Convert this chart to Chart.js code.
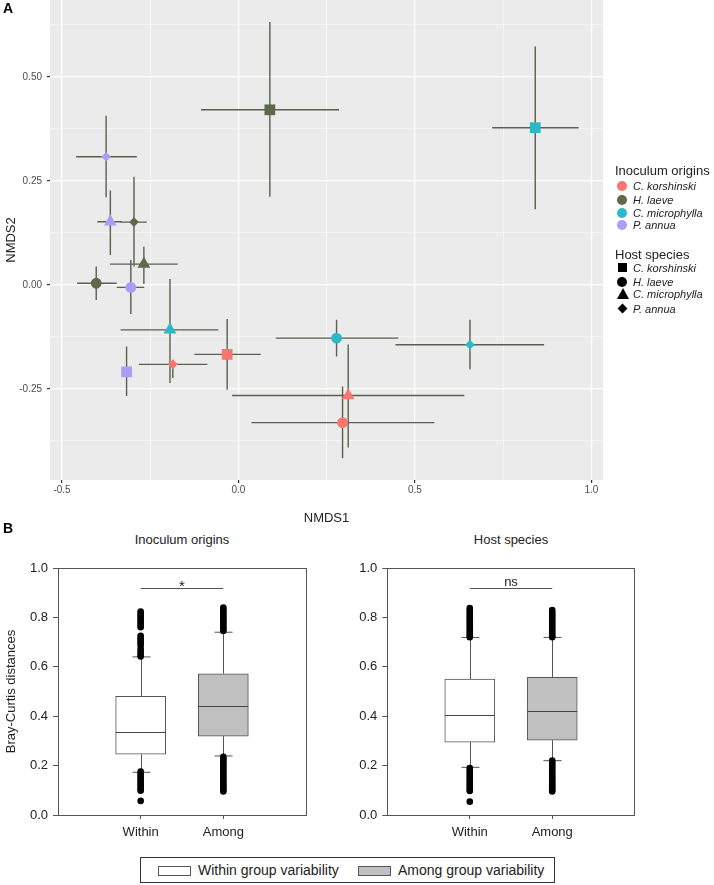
<!DOCTYPE html>
<html>
<head>
<meta charset="utf-8">
<script src="https://cdn.jsdelivr.net/npm/chart.js@4/dist/chart.umd.min.js"></script>
<style>
body { margin: 0; background: #fff; font-family: 'Liberation Sans', Arial, sans-serif; color: #222; }
#page { position: relative; width: 714px; height: 885px; overflow: hidden; }
.abs { position: absolute; }
.panel { font-weight: bold; font-size: 14px; color: #000; }
.ltitle { font-size: 13px; color: #222; white-space: nowrap; }
.litem { font-size: 11px; font-style: italic; color: #222; white-space: nowrap; line-height: 13px; }
.sym { position: absolute; left: -16px; top: 1px; }
.ptitle { font-size: 13px; color: #222; transform: translateX(-50%); white-space: nowrap; }
#blegend { left: 140px; top: 857px; width: 413px; height: 24px; border: 1px solid #333; font-size: 14px; }
.sw { position: absolute; top: 8px; width: 31px; height: 8px; border: 1px solid #555; }
.swt { position: absolute; top: 4px; white-space: nowrap; }
</style>
</head>
<body>
<div id="page">
  <canvas id="nmds" class="abs" style="left:0;top:0" width="714" height="530"></canvas>
  <div class="abs panel" style="left:3px;top:0px">A</div>
  <div id="legA"></div>

  <div class="abs panel" style="left:3px;top:520px">B</div>
  <div class="abs ptitle" style="left:182px;top:532px">Inoculum origins</div>
  <div class="abs ptitle" style="left:511px;top:532px">Host species</div>
  <canvas id="boxOrigin" class="abs" style="left:0;top:560px" width="320" height="290"></canvas>
  <canvas id="boxHost" class="abs" style="left:330px;top:560px" width="320" height="290"></canvas>
  <div id="blegend" class="abs">
    <div class="sw" style="left:17px;background:#fff"></div>
    <div class="swt" style="left:57px">Within group variability</div>
    <div class="sw" style="left:217px;background:#c0c0c0"></div>
    <div class="swt" style="left:257px">Among group variability</div>
  </div>
</div>
<script>
// ---- panel A data (NMDS centroids +/- error) ----
var origins = ['C. korshinski', 'H. laeve', 'C. microphylla', 'P. annua'];
var hosts = ['C. korshinski', 'H. laeve', 'C. microphylla', 'P. annua'];
var originOf = [1, 2, 3, 3, 1, 1, 1, 3, 2, 0, 0, 3, 2, 2, 0, 0];
var hostOf   = [0, 0, 3, 2, 3, 2, 1, 1, 2, 0, 3, 0, 1, 3, 2, 1];
var nmds1 = [0.089, 0.841, -0.375, -0.363, -0.296, -0.268, -0.403, -0.305, -0.194, -0.032, -0.186, -0.317, 0.278, 0.656, 0.311, 0.295];
var nmds2 = [0.421, 0.378, 0.308, 0.152, 0.151, 0.050, 0.004, -0.006, -0.108, -0.167, -0.191, -0.209, -0.128, -0.144, -0.266, -0.331];
var nmds1Low  = [-0.106, 0.719, -0.460, -0.400, -0.334, -0.364, -0.457, -0.345, -0.334, -0.125, -0.282, -0.317, 0.106, 0.445, -0.018, 0.037];
var nmds1High = [0.285, 0.964, -0.288, -0.331, -0.260, -0.172, -0.345, -0.267, -0.057, 0.063, -0.088, -0.317, 0.453, 0.866, 0.640, 0.555];
var nmds2Low  = [0.212, 0.182, 0.211, 0.072, 0.044, 0.002, -0.036, -0.070, -0.236, -0.252, -0.224, -0.267, -0.172, -0.203, -0.391, -0.417];
var nmds2High = [0.632, 0.573, 0.407, 0.227, 0.260, 0.092, 0.044, 0.060, 0.014, -0.082, -0.180, -0.148, -0.084, -0.084, -0.143, -0.244];

// ---- panel B data (Bray-Curtis boxplots) ----
var groups = ['Within', 'Among'];
var originQ1 = [0.246, 0.319];
var originMed = [0.338, 0.442];
var originQ3 = [0.480, 0.572];
var originWhiskLow = [0.173, 0.239];
var originWhiskHigh = [0.640, 0.740];
var originWithinOut = [0.824, 0.816, 0.808, 0.800, 0.792, 0.784, 0.776, 0.768, 0.760, 0.726, 0.718, 0.710, 0.702, 0.694, 0.686, 0.672, 0.664, 0.656, 0.648, 0.642,
    0.176, 0.168, 0.160, 0.152, 0.144, 0.136, 0.128, 0.120, 0.112, 0.104, 0.098, 0.057];
var originAmongOut = [0.840, 0.832, 0.824, 0.816, 0.808, 0.800, 0.792, 0.784, 0.776, 0.768, 0.760, 0.752, 0.745,
    0.236, 0.228, 0.220, 0.212, 0.204, 0.196, 0.188, 0.180, 0.172, 0.164, 0.156, 0.148, 0.140, 0.132, 0.124, 0.116, 0.108, 0.100, 0.095];
var hostQ1 = [0.295, 0.303];
var hostMed = [0.405, 0.420];
var hostQ3 = [0.550, 0.557];
var hostWhiskLow = [0.193, 0.220];
var hostWhiskHigh = [0.719, 0.719];
var hostWithinOut = [0.838, 0.830, 0.822, 0.814, 0.806, 0.798, 0.790, 0.782, 0.774, 0.766, 0.758, 0.750, 0.742, 0.734, 0.726, 0.720,
    0.190, 0.182, 0.174, 0.166, 0.158, 0.150, 0.142, 0.134, 0.126, 0.118, 0.110, 0.102, 0.097, 0.054];
var hostAmongOut = [0.830, 0.822, 0.814, 0.806, 0.798, 0.790, 0.782, 0.774, 0.766, 0.758, 0.750, 0.742, 0.734, 0.726, 0.720,
    0.220, 0.212, 0.204, 0.196, 0.188, 0.180, 0.172, 0.164, 0.156, 0.148, 0.140, 0.132, 0.124, 0.116, 0.108, 0.100, 0.095];

var originColors = ['#F8766D', '#5E684B', '#2DB8C8', '#A99DF5'];
var hostStyles = ['rect', 'circle', 'triangle', 'rectRot'];
var hostRadius = [7.6, 5.4, 7.4, 4.8];
var FONT = "'Liberation Sans', Arial, sans-serif";

Chart.defaults.font.family = FONT;
Chart.defaults.animation = false;

function isStep(v, s) {
    return Math.abs(v / s - Math.round(v / s)) < 1e-6;
}

function noPad(s) {
    s.paddingTop = 0;
    s.paddingBottom = 0;
    s.paddingLeft = 0;
    s.paddingRight = 0;
}

var errorBars = {
    id: 'errorBars',
    beforeDatasetsDraw: function(chart) {
        var ctx = chart.ctx, xs = chart.scales.x, ys = chart.scales.y;
        ctx.save();
        ctx.strokeStyle = '#59604f';
        ctx.lineWidth = 1.4;
        for (var i = 0; i < nmds1.length; i++) {
            var px = xs.getPixelForValue(nmds1[i]), py = ys.getPixelForValue(nmds2[i]);
            ctx.beginPath();
            ctx.moveTo(xs.getPixelForValue(nmds1Low[i]), py);
            ctx.lineTo(xs.getPixelForValue(nmds1High[i]), py);
            ctx.moveTo(px, ys.getPixelForValue(nmds2Low[i]));
            ctx.lineTo(px, ys.getPixelForValue(nmds2High[i]));
            ctx.stroke();
        }
        ctx.restore();
    }
};

var greyPanel = {
    id: 'greyPanel',
    beforeDraw: function(chart) {
        var a = chart.chartArea, ctx = chart.ctx;
        ctx.save();
        ctx.fillStyle = '#EBEBEB';
        ctx.fillRect(a.left, a.top, a.right - a.left, a.bottom - a.top);
        ctx.restore();
    }
};

var points = [];
for (var i = 0; i < nmds1.length; i++) points.push({ x: nmds1[i], y: nmds2[i] });

new Chart(document.getElementById('nmds'), {
    type: 'scatter',
    data: {
        datasets: [{
            data: points,
            backgroundColor: originOf.map(function(o) { return originColors[o]; }),
            pointStyle: hostOf.map(function(h) { return hostStyles[h]; }),
            pointRadius: hostOf.map(function(h) { return hostRadius[h]; }),
            borderWidth: 0
        }]
    },
    options: {
        responsive: false,
        layout: { autoPadding: false, padding: { left: 0, top: 0, right: 111, bottom: 0 } },
        plugins: { legend: { display: false }, tooltip: { enabled: false } },
        scales: {
            x: {
                type: 'linear', min: -0.534, max: 1.033,
                afterFit: function(s) { s.height = 50; noPad(s); },
                border: { display: false },
                grid: {
                    color: '#fff',
                    lineWidth: function(c) { return c.tick && isStep(c.tick.value, 0.5) ? 1.2 : 0.5; },
                    tickColor: function(c) { return c.tick && isStep(c.tick.value, 0.5) ? '#333' : 'rgba(0,0,0,0)'; },
                    tickLength: 3
                },
                ticks: {
                    stepSize: 0.25, includeBounds: false, autoSkip: false, maxRotation: 0,
                    color: '#4d4d4d', font: { size: 10 }, padding: 1,
                    callback: function(v) { return isStep(v, 0.5) ? v.toFixed(1) : ''; }
                },
                title: { display: true, text: 'NMDS1', color: '#222', font: { size: 13 }, padding: { top: 0, bottom: 4 } }
            },
            y: {
                type: 'linear', min: -0.469, max: 0.685,
                afterFit: function(s) { s.width = 50; noPad(s); },
                border: { display: false },
                grid: {
                    color: '#fff',
                    lineWidth: function(c) { return c.tick && isStep(c.tick.value, 0.25) ? 1.2 : 0.5; },
                    tickColor: function(c) { return c.tick && isStep(c.tick.value, 0.25) ? '#333' : 'rgba(0,0,0,0)'; },
                    tickLength: 3
                },
                ticks: {
                    stepSize: 0.125, includeBounds: false, autoSkip: false,
                    color: '#4d4d4d', font: { size: 10 }, padding: 5,
                    callback: function(v) { return isStep(v, 0.25) ? v.toFixed(2) : ''; }
                },
                title: { display: true, text: 'NMDS2', color: '#222', font: { size: 13 }, padding: { top: 4, bottom: 0 } }
            }
        }
    },
    plugins: [greyPanel, errorBars]
});

// legend for panel A
function symbolHtml(kind, color) {
    if (kind == 'circle') return '<div class="sym" style="width:10px;height:10px;border-radius:50%;background:' + color + '"></div>';
    if (kind == 'rect') return '<div class="sym" style="width:9px;height:9px;left:-15px;background:' + color + '"></div>';
    if (kind == 'triangle') return '<div class="sym" style="width:0;height:0;left:-16px;top:0;border-left:6px solid transparent;border-right:6px solid transparent;border-bottom:11px solid ' + color + '"></div>';
    return '<div class="sym" style="width:7px;height:7px;left:-14px;top:2px;transform:rotate(45deg);background:' + color + '"></div>';
}

var legA = document.getElementById('legA');
var html = '<div class="abs ltitle" style="left:615px;top:163px">Inoculum origins</div>';
var originTops = [180, 194, 207, 219];
for (var i = 0; i < origins.length; i++) {
    html += '<div class="abs litem" style="left:633px;top:' + originTops[i] + 'px">' + symbolHtml('circle', originColors[i]) + origins[i] + '</div>';
}
html += '<div class="abs ltitle" style="left:615px;top:247px">Host species</div>';
var hostTops = [262, 276, 288, 303];
for (var i = 0; i < hosts.length; i++) {
    html += '<div class="abs litem" style="left:633px;top:' + hostTops[i] + 'px">' + symbolHtml(hostStyles[i], '#000') + hosts[i] + '</div>';
}
legA.innerHTML = html;

// ---- box plots ----
function boxDecor(q1, med, q3, wLow, wHigh, sigText) {
    return {
        id: 'boxDecor',
        beforeDatasetsDraw: function(chart) {
            var ctx = chart.ctx, xs = chart.scales.x, ys = chart.scales.y;
            ctx.save();
            ctx.strokeStyle = '#555';
            ctx.lineWidth = 1;
            for (var i = 0; i < groups.length; i++) {
                var px = Math.round(xs.getPixelForValue(i + 1)) + 0.5;
                var yH = ys.getPixelForValue(wHigh[i]), yL = ys.getPixelForValue(wLow[i]);
                ctx.beginPath();
                ctx.moveTo(px, ys.getPixelForValue(q3[i]));
                ctx.lineTo(px, yH);
                ctx.moveTo(px - 9, yH);
                ctx.lineTo(px + 9, yH);
                ctx.moveTo(px, ys.getPixelForValue(q1[i]));
                ctx.lineTo(px, yL);
                ctx.moveTo(px - 9, yL);
                ctx.lineTo(px + 9, yL);
                ctx.stroke();
            }
            ctx.restore();
        },
        afterDatasetsDraw: function(chart) {
            var ctx = chart.ctx, xs = chart.scales.x, ys = chart.scales.y, a = chart.chartArea;
            ctx.save();
            ctx.strokeStyle = '#444';
            ctx.lineWidth = 1;
            for (var i = 0; i < groups.length; i++) {
                var px = xs.getPixelForValue(i + 1), my = Math.round(ys.getPixelForValue(med[i])) + 0.5;
                ctx.beginPath();
                ctx.moveTo(px - 25, my);
                ctx.lineTo(px + 25, my);
                ctx.stroke();
            }
            // frame
            ctx.strokeStyle = '#555';
            ctx.strokeRect(Math.round(a.left) + 0.5, Math.round(a.top) + 0.5, Math.round(a.right - a.left), Math.round(a.bottom - a.top));
            // significance bracket
            var sy = Math.round(ys.getPixelForValue(0.919)) + 0.5;
            ctx.beginPath();
            ctx.moveTo(xs.getPixelForValue(1), sy);
            ctx.lineTo(xs.getPixelForValue(2), sy);
            ctx.stroke();
            ctx.fillStyle = '#222';
            ctx.font = (sigText == '*' ? '15px ' : '13px ') + FONT;
            ctx.textAlign = 'center';
            ctx.textBaseline = 'alphabetic';
            ctx.fillText(sigText, (xs.getPixelForValue(1) + xs.getPixelForValue(2)) / 2, sy + (sigText == '*' ? 2 : -3));
            ctx.restore();
        }
    };
}

function boxChart(id, q1, med, q3, wLow, wHigh, outWithin, outAmong, sigText, yTitle, yWidth, rightPad) {
    var outPts = [];
    outWithin.forEach(function(v) { outPts.push({ x: groups[0], y: v }); });
    outAmong.forEach(function(v) { outPts.push({ x: groups[1], y: v }); });
    var labels = [''].concat(groups).concat(['']);
    new Chart(document.getElementById(id), {
        type: 'bar',
        data: {
            labels: labels,
            datasets: [{
                type: 'line',
                data: outPts,
                showLine: false,
                pointRadius: 3.3,
                pointBackgroundColor: '#000',
                pointBorderWidth: 0,
                order: 0
            }, {
                type: 'bar',
                data: [null, [q1[0], q3[0]], [q1[1], q3[1]], null],
                backgroundColor: ['#fff', '#fff', '#c0c0c0', '#c0c0c0'],
                borderColor: '#555',
                borderWidth: 1,
                borderSkipped: false,
                barThickness: 50,
                order: 1
            }]
        },
        options: {
            responsive: false,
            layout: { padding: { left: 0, top: 8, right: rightPad, bottom: 0 } },
            plugins: { legend: { display: false }, tooltip: { enabled: false } },
            scales: {
                x: {
                    type: 'category', offset: false,
                    afterFit: function(s) { s.height = 35; noPad(s); },
                    border: { display: false },
                    grid: {
                        offset: false, drawOnChartArea: false, tickLength: 4,
                        tickColor: function(c) { return c.tick && labels[c.index] ? '#555' : 'rgba(0,0,0,0)'; }
                    },
                    ticks: { color: '#222', font: { size: 13 }, padding: 6, autoSkip: false, maxRotation: 0 }
                },
                y: {
                    min: 0, max: 1,
                    afterFit: function(s) { s.width = yWidth; noPad(s); },
                    border: { display: false },
                    grid: { drawOnChartArea: false, tickLength: 5, tickColor: '#555' },
                    ticks: {
                        stepSize: 0.2, color: '#222', font: { size: 13 }, padding: 5,
                        callback: function(v) { return v.toFixed(1); }
                    },
                    title: { display: !!yTitle, text: yTitle, color: '#222', font: { size: 13 }, padding: { top: 4, bottom: 0 } }
                }
            }
        },
        plugins: [boxDecor(q1, med, q3, wLow, wHigh, sigText)]
    });
}

boxChart('boxOrigin', originQ1, originMed, originQ3, originWhiskLow, originWhiskHigh, originWithinOut, originAmongOut, '*', 'Bray-Curtis distances', 58, 14);
boxChart('boxHost', hostQ1, hostMed, hostQ3, hostWhiskLow, hostWhiskHigh, hostWithinOut, hostAmongOut, 'ns', '', 57.3, 15.3);
</script>
</body>
</html>
